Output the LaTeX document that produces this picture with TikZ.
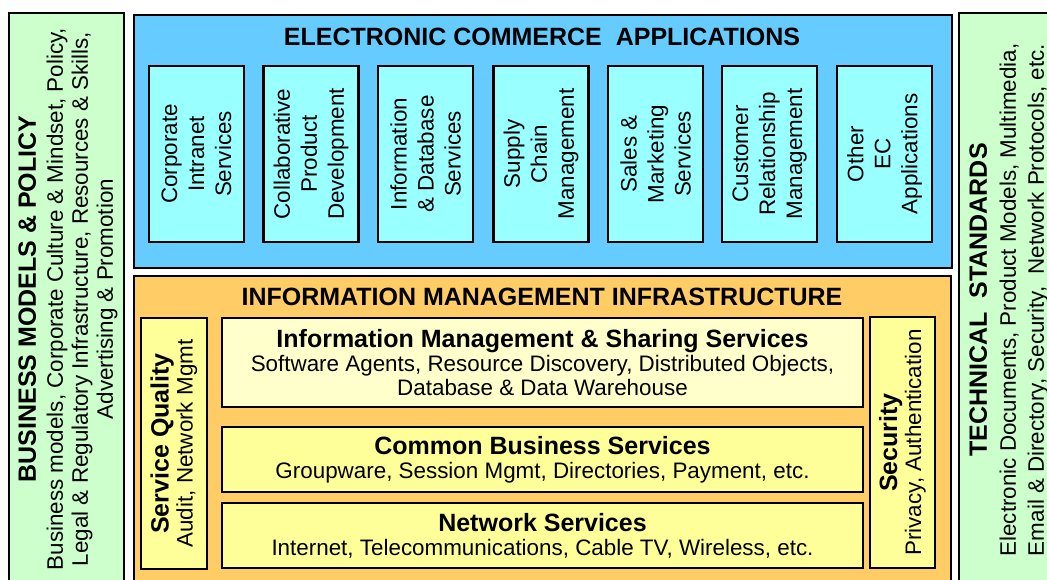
\documentclass[tikz,border=0pt]{standalone}
\usepackage{fontspec}
\setmainfont{Liberation Sans}
\usetikzlibrary{positioning}
\definecolor{palegreen}{RGB}{204,255,204}
\definecolor{ecblue}{RGB}{102,204,255}
\definecolor{appcyan}{RGB}{153,255,255}
\definecolor{imorange}{RGB}{255,204,102}
\definecolor{layeryellow}{RGB}{255,255,153}
\definecolor{paleyellow}{RGB}{255,255,204}
\newcommand{\regfont}{\fontsize{22.4}{24}\selectfont}
\newcommand{\headfont}{\bfseries\fontsize{25}{25}\selectfont}
\tikzstyle{panel} = [rectangle, draw, line width=2pt, anchor=north west, inner sep=0pt]
\tikzstyle{app} = [rectangle, draw, fill=appcyan, line width=2.5pt, rotate=90,
    minimum width=176pt, minimum height=95pt, align=center, inner sep=0pt,
    font=\fontsize{22.4}{27}\selectfont]
\tikzstyle{layer} = [rectangle, draw, fill=layeryellow, line width=2.5pt,
    minimum width=641pt, align=center, inner sep=0pt, font=\regfont]
\tikzstyle{sidebar} = [layer, rotate=90, minimum width=251pt, minimum height=66pt]
\tikzstyle{title} = [inner sep=0pt, font=\headfont]
\tikzstyle{sidetext} = [rotate=90, align=center, inner sep=0pt,
    font=\fontsize{22.4}{25}\selectfont]

\begin{document}
\begin{tikzpicture}[x=1pt, y=-1pt]
    \useasboundingbox (0,0) rectangle (1047,580);
    \clip (0,0) rectangle (1047,580);

    % side panels
    \node[panel, fill=palegreen, minimum width=115pt, minimum height=600pt] (business) at (8,12) {};
    \node[panel, fill=palegreen, minimum width=110pt, minimum height=600pt] (standards) at (958,12) {};
    \node[sidetext] (bizlabel) at (68,299) {{\headfont BUSINESS MODELS \& POLICY}\\[2pt]
        Business models, Corporate Culture \& Mindset, Policy,\\
        Legal \& Regulatory Infrastructure, Resources \& Skills,\\
        Advertising \& Promotion};
    \node[sidetext, font=\fontsize{22.4}{28}\selectfont] (stdlabel) at (1009,300)
        {{\headfont TECHNICAL~~STANDARDS}\\[1pt]
        Electronic Documents, Product Models, Multimedia,\\
        Email \& Directory, Security,~~Network Protocols, etc.};

    % e-commerce applications
    \node[panel, fill=ecblue, minimum width=818pt, minimum height=253pt] (ec) at (133,14) {};
    \node[title] (ectitle) at (542,37) {ELECTRONIC COMMERCE~~APPLICATIONS};
    \node[app] (intranet) at (196.5,154) {Corporate\\Intranet\\Services};
    \node[app] (collab) at (311,154) {Collaborative\\Product\\Development};
    \node[app] (infodb) at (425.5,154) {Information\\\& Database\\Services};
    \node[app] (supply) at (541,154) {Supply\\Chain\\Management};
    \node[app] (sales) at (655.5,154) {Sales \&\\Marketing\\Services};
    \node[app] (crm) at (769.5,154) {Customer\\Relationship\\Management};
    \node[app] (other) at (884.5,154) {Other\\EC\\Applications};

    % information management infrastructure
    \node[panel, fill=imorange, minimum width=817pt, minimum height=330pt] (im) at (133,275) {};
    \node[title] (imtitle) at (542,297) {INFORMATION MANAGEMENT INFRASTRUCTURE};
    \node[layer, fill=paleyellow, minimum height=89pt] (sharing) at (542.5,362.5)
        {{\headfont Information Management \& Sharing Services}\\
        Software Agents, Resource Discovery, Distributed Objects,\\
        Database \& Data Warehouse};
    \node[layer, minimum height=65pt] (common) at (542.5,459.5)
        {{\headfont Common Business Services}\\
        Groupware, Session Mgmt, Directories, Payment, etc.};
    \node[layer, minimum height=65pt] (network) at (542.5,535.5)
        {{\headfont Network Services}\\
        Internet, Telecommunications, Cable TV, Wireless, etc.};
    \node[sidebar] (quality) at (174,443.5) {{\headfont Service Quality}\\Audit, Network Mgmt};
    \node[sidebar, minimum height=65pt] (security) at (902.5,442.5) {{\headfont Security}\\Privacy, Authentication};
\end{tikzpicture}
\end{document}
